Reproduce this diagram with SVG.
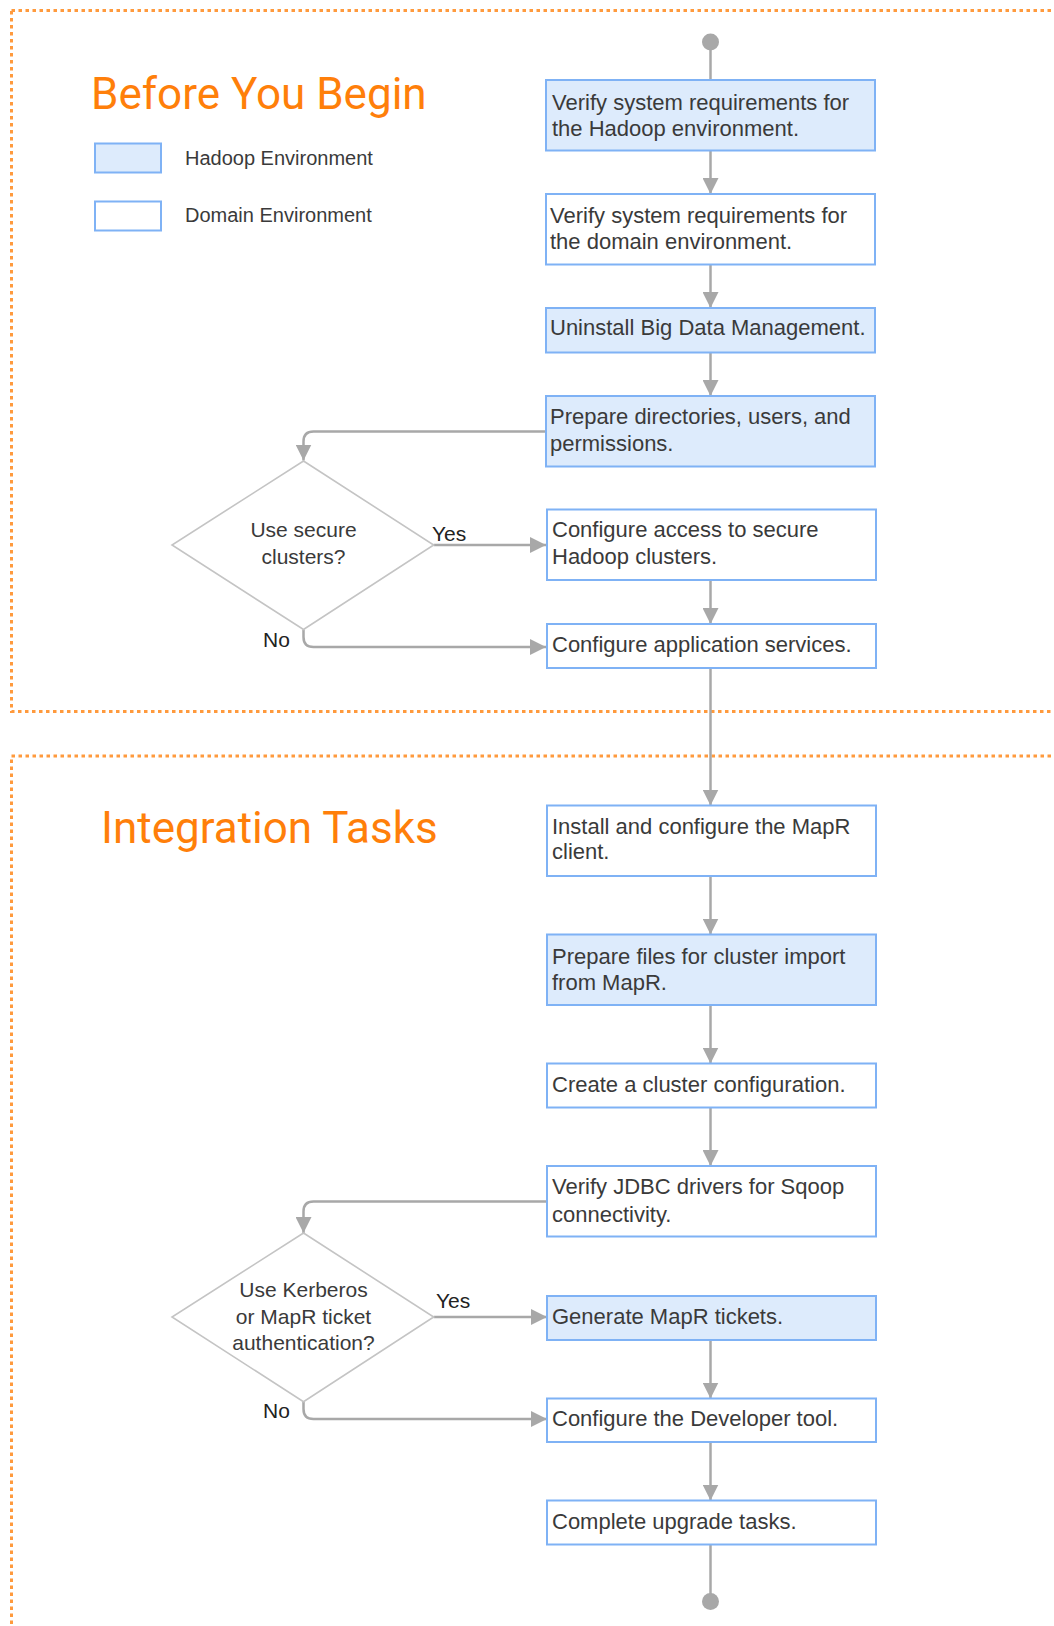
<svg xmlns="http://www.w3.org/2000/svg" width="1054" height="1626" viewBox="0 0 1054 1626">
<style>
.frame{fill:none;stroke:#FF9A3D;stroke-width:3;stroke-dasharray:3.5 3.5}
.title{font-family:Roboto,"Liberation Sans",sans-serif;font-size:44px;fill:#FF7F0A}
.hb{fill:#DDEBFC;stroke:#7FB2F5;stroke-width:2}
.db{fill:#FFFFFF;stroke:#7FB2F5;stroke-width:2}
.t{font-family:"Liberation Sans",Arial,sans-serif;font-size:22px;fill:#3A3A3A}
.lg{font-family:"Liberation Sans",Arial,sans-serif;font-size:20px;fill:#3A3A3A}
.dt{font-family:"Liberation Sans",Arial,sans-serif;font-size:21px;fill:#3A3A3A;text-anchor:middle}
.lb{font-family:"Liberation Sans",Arial,sans-serif;font-size:21px;fill:#222222}
.dia{fill:#FFFFFF;stroke:#C4C4C4;stroke-width:1.6}
.c{fill:none;stroke:#A8A8A8;stroke-width:2.5}
.ca{fill:none;stroke:#A8A8A8;stroke-width:2.5;marker-end:url(#arr)}
.dot{fill:#A8A8A8}
</style>
<defs>
<marker id="arr" viewBox="0 0 16 16" refX="16" refY="8" markerWidth="16" markerHeight="16" orient="auto" markerUnits="userSpaceOnUse">
<path d="M0,0 L16,8 L0,16 z" fill="#A8A8A8"/>
</marker>
</defs>
<rect width="1054" height="1626" fill="#FFFFFF"/>

<g id="sections">
<rect class="frame" x="11.5" y="10.5" width="1100" height="701"/>
<rect class="frame" x="11.5" y="756" width="1100" height="1000"/>
<text class="title" x="91" y="109">Before You Begin</text>
<text class="title" x="101" y="843">Integration Tasks</text>
</g>

<g id="legend">
<rect class="hb" x="95" y="143.5" width="66" height="29"/>
<text class="lg" x="185" y="164.5">Hadoop Environment</text>
<rect class="db" x="95" y="201.5" width="66" height="29"/>
<text class="lg" x="185" y="222">Domain Environment</text>
</g>

<g id="connectors">
<circle class="dot" cx="710.5" cy="42" r="8.5"/>
<path class="c" d="M710.5,42 V80"/>
<path class="ca" d="M710.5,150.5 V194"/>
<path class="ca" d="M710.5,264.5 V308"/>
<path class="ca" d="M710.5,352.5 V396"/>
<path class="ca" d="M546,431.5 H313.5 Q303.5,431.5 303.5,441.5 V460.5"/>
<path class="ca" d="M433.7,545 H546"/>
<text class="lb" x="432" y="541">Yes</text>
<path class="ca" d="M710.5,580 V624"/>
<path class="ca" d="M303.5,629.5 V637 Q303.5,647 313.5,647 H546"/>
<text class="lb" x="263" y="646.5">No</text>
<path class="ca" d="M710.5,668 V805.5"/>
<path class="ca" d="M710.5,876 V934.5"/>
<path class="ca" d="M710.5,1005 V1063.5"/>
<path class="ca" d="M710.5,1107.5 V1166"/>
<path class="ca" d="M547,1201.5 H313.5 Q303.5,1201.5 303.5,1211.5 V1233"/>
<path class="ca" d="M433.7,1317 H547"/>
<text class="lb" x="436" y="1308">Yes</text>
<path class="ca" d="M710.5,1340 V1398.5"/>
<path class="ca" d="M303.5,1401.7 V1409 Q303.5,1419 313.5,1419 H547"/>
<text class="lb" x="263" y="1418">No</text>
<path class="ca" d="M710.5,1442 V1500.5"/>
<path class="c" d="M710.5,1544.5 V1601.5"/>
<circle class="dot" cx="710.5" cy="1601.5" r="8.5"/>
</g>

<g id="n1"><rect class="hb" x="546" y="80" width="329" height="70.5"/>
<text class="t" x="552" y="109.5">Verify system requirements for</text>
<text class="t" x="552" y="135.5">the Hadoop environment.</text></g>

<g id="n2"><rect class="db" x="546" y="194" width="329" height="70.5"/>
<text class="t" x="550" y="222.5">Verify system requirements for</text>
<text class="t" x="550" y="248.5">the domain environment.</text></g>

<g id="n3"><rect class="hb" x="546" y="308" width="329" height="44.5"/>
<text class="t" x="550" y="335">Uninstall Big Data Management.</text></g>

<g id="n4"><rect class="hb" x="546" y="396" width="329" height="70.5"/>
<text class="t" x="550" y="424">Prepare directories, users, and</text>
<text class="t" x="550" y="451">permissions.</text></g>

<g id="d1"><path class="dia" d="M303.5,461 L433.7,545 L303.5,629.5 L172,545 Z"/>
<text class="dt" x="303.5" y="537">Use secure</text>
<text class="dt" x="303.5" y="564">clusters?</text></g>

<g id="n5"><rect class="db" x="547" y="509.5" width="329" height="70.5"/>
<text class="t" x="552" y="537">Configure access to secure</text>
<text class="t" x="552" y="563.5">Hadoop clusters.</text></g>

<g id="n6"><rect class="db" x="547" y="624" width="329" height="44"/>
<text class="t" x="552" y="652">Configure application services.</text></g>

<g id="n7"><rect class="db" x="547" y="805.5" width="329" height="70.5"/>
<text class="t" x="552" y="833.5">Install and configure the MapR</text>
<text class="t" x="552" y="859">client.</text></g>

<g id="n8"><rect class="hb" x="547" y="934.5" width="329" height="70.5"/>
<text class="t" x="552" y="963.5">Prepare files for cluster import</text>
<text class="t" x="552" y="989.5">from MapR.</text></g>

<g id="n9"><rect class="db" x="547" y="1063.5" width="329" height="44"/>
<text class="t" x="552" y="1092">Create a cluster configuration.</text></g>

<g id="n10"><rect class="db" x="547" y="1166" width="329" height="70.5"/>
<text class="t" x="552" y="1194">Verify JDBC drivers for Sqoop</text>
<text class="t" x="552" y="1221.5">connectivity.</text></g>

<g id="d2"><path class="dia" d="M303.5,1233 L433.7,1317 L303.5,1401.7 L172,1317 Z"/>
<text class="dt" x="303.5" y="1297">Use Kerberos</text>
<text class="dt" x="303.5" y="1323.5">or MapR ticket</text>
<text class="dt" x="303.5" y="1349.5">authentication?</text></g>

<g id="n11"><rect class="hb" x="547" y="1296" width="329" height="44"/>
<text class="t" x="552" y="1323.5">Generate MapR tickets.</text></g>

<g id="n12"><rect class="db" x="547" y="1398.5" width="329" height="43.5"/>
<text class="t" x="552" y="1426">Configure the Developer tool.</text></g>

<g id="n13"><rect class="db" x="547" y="1500.5" width="329" height="44"/>
<text class="t" x="552" y="1528.5">Complete upgrade tasks.</text></g>
</svg>
